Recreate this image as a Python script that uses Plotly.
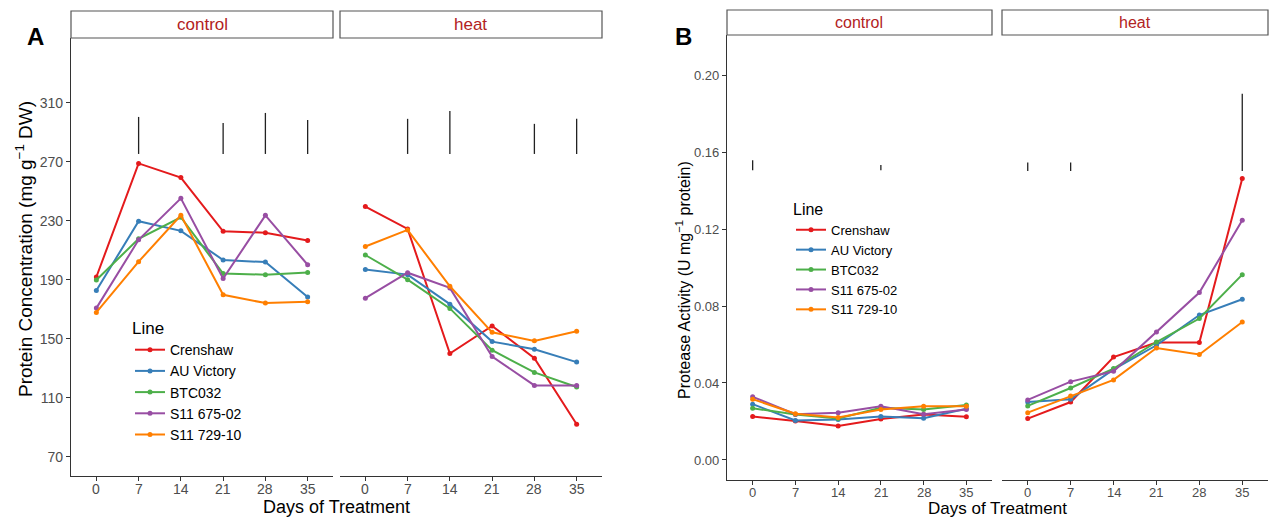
import plotly.graph_objects as go

# ---------------- data ----------------
days = [0, 7, 14, 21, 28, 35]
line_names = ["Crenshaw", "AU Victory", "BTC032", "S11 675-02", "S11 729-10"]
line_colors = ["#E41A1C", "#377EB8", "#4DAF4A", "#984EA3", "#FF7F00"]

# Panel A: protein concentration (mg g-1 DW)
protein_control_crenshaw = [192, 269, 259.4, 223, 222, 216.7]
protein_control_auvictory = [182.8, 229.8, 223.3, 203.5, 202.1, 178.5]
protein_control_btc032 = [190, 217.9, 232.5, 194.3, 193.6, 195]
protein_control_s11_675 = [170.9, 217.2, 245.3, 190.9, 233.8, 200.3]
protein_control_s11_729 = [168, 202.4, 233.8, 179.9, 174.3, 175.2]

protein_heat_crenshaw = [239.7, 224.6, 140.1, 158.8, 137, 92.2]
protein_heat_auvictory = [197, 193.6, 173.6, 148.2, 143, 134.3]
protein_heat_btc032 = [206.9, 190.2, 170.7, 142.4, 127.3, 117.4]
protein_heat_s11_675 = [177.6, 194.9, 184.6, 138.1, 118.5, 118.5]
protein_heat_s11_729 = [212.7, 223.9, 185.7, 154.5, 148.7, 155.2]

# Panel B: protease activity (U mg-1 protein)
protease_control_crenshaw = [0.0226, 0.0203, 0.0176, 0.0213, 0.0236, 0.0224]
protease_control_auvictory = [0.0290, 0.0205, 0.0210, 0.0226, 0.0217, 0.0266]
protease_control_btc032 = [0.0269, 0.0236, 0.0216, 0.0271, 0.0262, 0.0286]
protease_control_s11_675 = [0.0328, 0.0238, 0.0245, 0.0279, 0.0238, 0.0262]
protease_control_s11_729 = [0.0316, 0.0240, 0.0221, 0.0262, 0.0279, 0.0279]

protease_heat_crenshaw = [0.0215, 0.0301, 0.0535, 0.0610, 0.0610, 0.1462]
protease_heat_auvictory = [0.0301, 0.0315, 0.0471, 0.0596, 0.0753, 0.0835]
protease_heat_btc032 = [0.0281, 0.0374, 0.0475, 0.0613, 0.0735, 0.0963]
protease_heat_s11_675 = [0.0312, 0.0407, 0.0461, 0.0665, 0.0870, 0.1245]
protease_heat_s11_729 = [0.0246, 0.0333, 0.0416, 0.0582, 0.0548, 0.0717]

# significance (LSD-type) bars: day, lower, upper
sigA_control_days = [7, 21, 28, 35]
sigA_control_low = [275.4, 275.4, 275.4, 275.4]
sigA_control_high = [300.5, 296.4, 303.2, 298.5]
sigA_heat_days = [7, 14, 28, 35]
sigA_heat_low = [275.4, 275.4, 275.4, 275.4]
sigA_heat_high = [299.2, 304.6, 295.8, 299.2]

sigB_control_days = [0, 21]
sigB_control_low = [0.1505, 0.1505]
sigB_control_high = [0.1557, 0.1533]
sigB_heat_days = [0, 7, 35]
sigB_heat_low = [0.1501, 0.1501, 0.1501]
sigB_heat_high = [0.1545, 0.1545, 0.1903]

protein_ticks = [70, 110, 150, 190, 230, 270, 310]
protease_ticks = [0.00, 0.04, 0.08, 0.12, 0.16, 0.20]
protease_ticktext = ["0.00", "0.04", "0.08", "0.12", "0.16", "0.20"]
day_ticktext = [str(d) for d in days]

protein_control = [protein_control_crenshaw, protein_control_auvictory, protein_control_btc032,
                   protein_control_s11_675, protein_control_s11_729]
protein_heat = [protein_heat_crenshaw, protein_heat_auvictory, protein_heat_btc032,
                protein_heat_s11_675, protein_heat_s11_729]
protease_control = [protease_control_crenshaw, protease_control_auvictory, protease_control_btc032,
                    protease_control_s11_675, protease_control_s11_729]
protease_heat = [protease_heat_crenshaw, protease_heat_auvictory, protease_heat_btc032,
                 protease_heat_s11_675, protease_heat_s11_729]

# ---------------- layout helpers ----------------
W, H = 1273, 523
FONT = "Liberation Sans, Arial, sans-serif"
TICKC = "#4D4D4D"
AXC = "#333333"
STRIPC = "#B22222"


def fx(p):
    return p / W


def fy(p):
    return 1 - p / H


fig = go.Figure()


def add_series(data, xa, ya, legend, showlegend):
    for name, col, vals in zip(line_names, line_colors, data):
        fig.add_trace(go.Scatter(
            x=days, y=vals, name=name, mode="lines+markers",
            line=dict(color=col, width=2), marker=dict(color=col, size=5),
            xaxis=xa, yaxis=ya, legend=legend, showlegend=showlegend,
            legendgroup=legend + name))


def add_sig(dd, lo, hi, xa, ya):
    xs, ys = [], []
    for d, l, h in zip(dd, lo, hi):
        xs += [d, d, None]
        ys += [l, h, None]
    fig.add_trace(go.Scatter(x=xs, y=ys, mode="lines", line=dict(color="#222222", width=1.3),
                             xaxis=xa, yaxis=ya, showlegend=False, hoverinfo="skip"))


add_series(protein_control, "x", "y", "legend", True)
add_series(protein_heat, "x2", "y2", "legend", False)
add_series(protease_control, "x3", "y3", "legend2", True)
add_series(protease_heat, "x4", "y4", "legend2", False)
add_sig(sigA_control_days, sigA_control_low, sigA_control_high, "x", "y")
add_sig(sigA_heat_days, sigA_heat_low, sigA_heat_high, "x2", "y2")
add_sig(sigB_control_days, sigB_control_low, sigB_control_high, "x3", "y3")
add_sig(sigB_heat_days, sigB_heat_low, sigB_heat_high, "x4", "y4")

xrange = [-4.2, 39.2]


def xax(dom, anchor):
    return dict(domain=dom, anchor=anchor, range=xrange, tickvals=days,
                showticklabels=False,
                showline=True, linecolor=AXC, linewidth=1.3, ticks="outside",
                ticklen=4, tickcolor=AXC, tickwidth=1,
                showgrid=False, zeroline=False, fixedrange=True)


def yax(dom, anchor, rng, tv, tt, size, show):
    d = dict(domain=dom, anchor=anchor, range=rng, showgrid=False, zeroline=False)
    if show:
        d.update(tickvals=tv, ticktext=tt, showline=True, linecolor=AXC, linewidth=1.3,
                 ticks="outside", ticklen=4, tickcolor=AXC, tickwidth=1,
                 tickfont=dict(family=FONT, size=size, color=TICKC))
    else:
        d.update(showticklabels=False, showline=False, ticks="")
    return d


yA = [fy(476), fy(38)]
yB = [fy(480), fy(35)]
rngA = [57.1, 354.0]
rngB = [-0.0104, 0.2208]

fig.update_layout(
    width=W, height=H,
    margin=dict(l=0, r=0, t=0, b=0),
    paper_bgcolor="white", plot_bgcolor="white",
    font=dict(family=FONT, color="black"),
    xaxis=xax([fx(71), fx(333)], "y"),
    xaxis2=xax([fx(340), fx(602)], "y2"),
    xaxis3=xax([fx(727), fx(992)], "y3"),
    xaxis4=xax([fx(1002), fx(1268)], "y4"),
    yaxis=yax(yA, "x", rngA, protein_ticks, [str(v) for v in protein_ticks], 14, True),
    yaxis2=yax(yA, "x2", rngA, None, None, 14, False),
    yaxis3=yax(yB, "x3", rngB, protease_ticks, protease_ticktext, 13, True),
    yaxis4=yax(yB, "x4", rngB, None, None, 13, False),
    legend=dict(x=fx(130), y=fy(312), xanchor="left", yanchor="top",
                bgcolor="rgba(0,0,0,0)", borderwidth=0,
                title=dict(text="Line", font=dict(family=FONT, size=17, color="black")),
                font=dict(family=FONT, size=14, color="black"), traceorder="normal"),
    legend2=dict(x=fx(791), y=fy(194), xanchor="left", yanchor="top",
                 bgcolor="rgba(0,0,0,0)", borderwidth=0,
                 title=dict(text="Line", font=dict(family=FONT, size=16, color="black")),
                 font=dict(family=FONT, size=13, color="black"), traceorder="normal"),
)

shapes = []
annotations = []
strips = [
    (71, 333, 11, 38, "control", 17),
    (340, 602, 11, 38, "heat", 17),
    (727, 992, 10, 35, "control", 16),
    (1002, 1268, 10, 35, "heat", 16),
]
for x0, x1, y0, y1, label, fs in strips:
    shapes.append(dict(type="rect", xref="paper", yref="paper",
                       x0=fx(x0), x1=fx(x1), y0=fy(y1), y1=fy(y0),
                       line=dict(color="#555555", width=1.2), fillcolor="white"))
    annotations.append(dict(text=label, xref="paper", yref="paper",
                            x=fx((x0 + x1) / 2), y=fy((y0 + y1) / 2),
                            showarrow=False, xanchor="center", yanchor="middle",
                            font=dict(family=FONT, size=fs, color=STRIPC)))

# x tick labels placed close to the axis line (ggplot style)
for xa, ypix, fs in [("x", 489, 14), ("x2", 489, 14), ("x3", 492, 13), ("x4", 492, 13)]:
    for d, t in zip(days, day_ticktext):
        annotations.append(dict(text=t, xref=xa, yref="paper", x=d, y=fy(ypix),
                                showarrow=False, xanchor="center", yanchor="middle",
                                font=dict(family=FONT, size=fs, color=TICKC)))

annotations += [
    dict(text="<b>A</b>", xref="paper", yref="paper", x=fx(35), y=fy(36),
         showarrow=False, xanchor="center", yanchor="middle",
         font=dict(family=FONT, size=24, color="black")),
    dict(text="<b>B</b>", xref="paper", yref="paper", x=fx(683), y=fy(36),
         showarrow=False, xanchor="center", yanchor="middle",
         font=dict(family=FONT, size=24, color="black")),
    dict(text="Days of Treatment", xref="paper", yref="paper", x=fx(336), y=fy(507),
         showarrow=False, xanchor="center", yanchor="middle",
         font=dict(family=FONT, size=18, color="black")),
    dict(text="Days of Treatment", xref="paper", yref="paper", x=fx(997), y=fy(508),
         showarrow=False, xanchor="center", yanchor="middle",
         font=dict(family=FONT, size=17, color="black")),
    dict(text="Protein Concentration (mg g<sup>\u22121</sup> DW)", xref="paper", yref="paper",
         x=fx(24), y=fy(249), textangle=-90, showarrow=False,
         xanchor="center", yanchor="middle",
         font=dict(family=FONT, size=19, color="black")),
    dict(text="Protease Activity (U mg<sup>\u22121</sup> protein)", xref="paper", yref="paper",
         x=fx(683), y=fy(280), textangle=-90, showarrow=False,
         xanchor="center", yanchor="middle",
         font=dict(family=FONT, size=16, color="black")),
]

fig.update_layout(shapes=shapes, annotations=annotations)
fig.write_html(
    "out.html",
    config={"displayModeBar": False},
    post_script="document.body.style.margin='0';document.body.style.padding='0';"
                "document.documentElement.style.overflow='hidden';",
)
